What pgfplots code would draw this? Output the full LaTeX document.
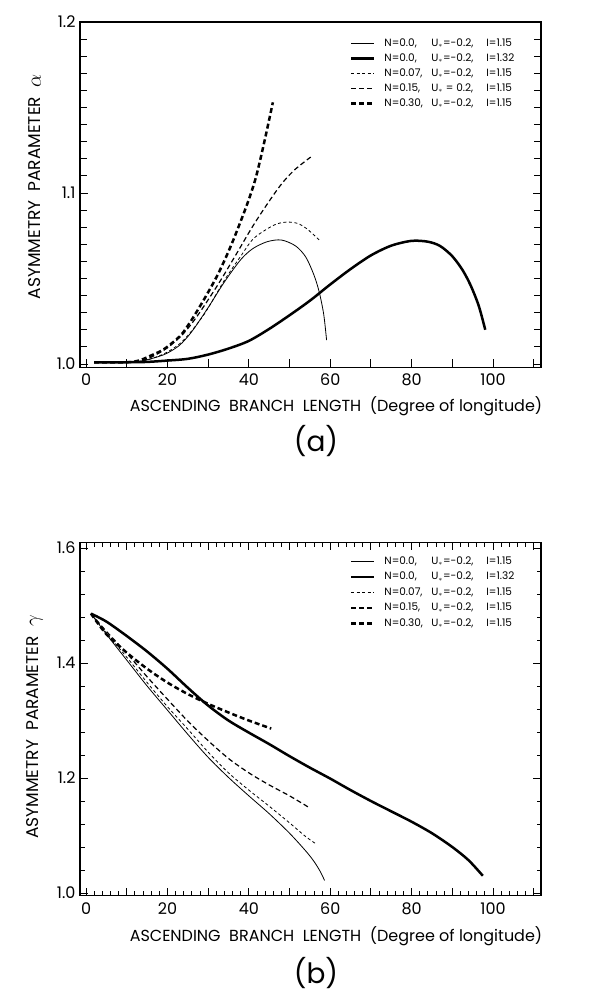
\documentclass[border=0pt]{standalone}
\usepackage{fontspec}
\setmainfont{Poppins}
\usepackage{pgfplots}
\pgfplotsset{compat=1.18}
\newcommand{\leg}[3]{\makebox[47pt][l]{#1}\makebox[55pt][l]{U$_{\ast}$#2}#3}
\begin{document}
\begin{tikzpicture}
\useasboundingbox (0pt,0pt) rectangle (607pt,999pt);
\pgfplotsset{
 common/.style={
  scale only axis,
  width=461pt,
  axis line style={line width=1.1pt},
  every tick/.style={line width=0.9pt, black},
  tick align=inside,
  xmin=-1.5, xmax=111.8,
  xtick={0,10,...,110},
  xticklabels={0,,20,,40,,60,,80,,100,},
  /pgf/number format/assume math mode=true,
  /pgf/number format/fixed, /pgf/number format/fixed zerofill, /pgf/number format/precision=1,
  ticklabel style={font=\fontsize{16}{16}\selectfont},
  xticklabel style={yshift=-3pt},
  yticklabel style={xshift=-1pt},
  legend cell align=left,
  legend image code/.code={\draw[##1] (0pt,0pt) -- (23pt,0pt);},
  legend style={draw=none, fill=none, inner sep=0pt, anchor=north west,
    font=\fontsize{10.5}{10.5}\selectfont,
    /tikz/every odd column/.append style={column sep=8pt},
    nodes={inner sep=1pt, text height=7.5pt, text depth=2pt}},
 },
 thinsolid/.style={black, line width=0.8pt, smooth},
 thicksolid/.style={black, line width=2.5pt, smooth},
 thindash/.style={black, line width=0.8pt, dash pattern=on 3pt off 2.5pt, smooth},
 meddash/.style={black, line width=1.2pt, dash pattern=on 5pt off 3pt, smooth},
 thickdash/.style={black, line width=2.5pt, dash pattern=on 5pt off 3pt, smooth},
}
% ---------------- panel (a) ----------------
\begin{axis}[common,
  at={(80pt,631.6pt)}, anchor=south west, height=345.4pt,
  ymin=0.998, ymax=1.2,
  ytick={1.0,1.1,1.2},
  minor y tick num=9,
  xtick pos=lower, ytick pos=both,
  major tick length=8pt, minor tick length=7pt,
  legend style={at={(0.585,0.955)}, row sep=3.5pt},
]
\addplot[thinsolid] coordinates {(2,1.001) (8,1.001) (12,1.0012) (15,1.0025) (18,1.0045) (20,1.0064) (23,1.011) (26,1.019) (30,1.033) (34,1.048) (38,1.061) (41,1.0675) (44.5,1.0715) (48,1.0725) (51.5,1.069) (54,1.0625) (56,1.052) (57.3,1.042) (58.4,1.029) (59.1,1.014)};
\addlegendentry{\leg{N=0.0,}{=-0.2,}{I=1.15}}
\addplot[thicksolid] coordinates {(2,1.001) (10,1.001) (15,1.0012) (20,1.002) (25,1.003) (30,1.0055) (35,1.009) (40,1.0135) (45,1.0205) (50,1.0285) (55,1.037) (60,1.0465) (65,1.0555) (70,1.0635) (75,1.0692) (80,1.072) (84,1.0715) (87,1.069) (90,1.063) (92.5,1.055) (94.5,1.046) (96.5,1.034) (98.1,1.020)};
\addlegendentry{\leg{N=0.0,}{=-0.2,}{I=1.32}}
\addplot[thindash] coordinates {(2,1.001) (10,1.001) (13,1.0015) (16,1.003) (20,1.007) (24,1.014) (29,1.029) (34,1.049) (38,1.063) (41,1.073) (44.5,1.079) (47,1.082) (49.5,1.083) (52,1.0822) (54,1.0795) (55.5,1.0765) (57.3,1.0725)};
\addlegendentry{\leg{N=0.07,}{=-0.2,}{I=1.15}}
\addplot[meddash] coordinates {(2,1.001) (10,1.001) (13,1.0015) (16,1.004) (20,1.0095) (24,1.018) (27.3,1.028) (32.3,1.046) (36.6,1.063) (41.6,1.083) (47.3,1.103) (51,1.113) (55.2,1.121)};
\addlegendentry{\leg{N=0.15,}{ = 0.2,}{I=1.15}}
\addplot[thickdash] coordinates {(2,1.001) (10,1.001) (13,1.002) (16,1.005) (18.7,1.008) (21,1.012) (23.7,1.018) (27.3,1.031) (32.3,1.052) (36.6,1.075) (41.6,1.108) (45.9,1.153)};
\addlegendentry{\leg{N=0.30,}{=-0.2,}{I=1.15}}
\end{axis}
% ---------------- panel (b) ----------------
\begin{axis}[common,
  at={(80pt,103.1pt)}, anchor=south west, height=353.6pt,
  ymin=0.995, ymax=1.61,
  ytick={1.0,1.2,1.4,1.6},
  minor y tick num=4, minor x tick num=4,
  xtick pos=both, ytick pos=both,
  major tick length=8pt, minor tick length=4.5pt,
  legend style={at={(0.585,0.9625)}, row sep=4pt},
]
\addplot[thinsolid] coordinates {(1.2,1.486) (5,1.45) (10,1.405) (15,1.36) (20,1.318) (25,1.276) (30,1.236) (35,1.201) (40,1.169) (45,1.138) (50,1.104) (54,1.073) (56,1.055) (57.5,1.038) (58.6,1.022)};
\addlegendentry{\leg{N=0.0,}{=-0.2,}{I=1.15}}
\addplot[thicksolid] coordinates {(1.2,1.486) (5,1.472) (10,1.447) (15,1.420) (20,1.390) (25,1.357) (30,1.326) (35,1.300) (40,1.279) (45,1.259) (50,1.238) (55,1.218) (60,1.199) (65,1.179) (70,1.160) (75,1.142) (80,1.124) (85,1.104) (90,1.080) (94,1.057) (97.5,1.030)};
\addlegendentry{\leg{N=0.0,}{=-0.2,}{I=1.32}}
\addplot[thindash] coordinates {(1.2,1.486) (5,1.452) (10,1.41) (15,1.366) (20,1.324) (25,1.285) (30,1.245) (35,1.209) (40,1.179) (45,1.151) (50,1.122) (54,1.098) (56.6,1.085)};
\addlegendentry{\leg{N=0.07,}{=-0.2,}{I=1.15}}
\addplot[meddash] coordinates {(1.2,1.486) (5,1.455) (10,1.417) (15,1.376) (20,1.337) (25,1.299) (30,1.265) (35,1.234) (40,1.209) (45,1.188) (50,1.169) (54.5,1.150)};
\addlegendentry{\leg{N=0.15,}{=-0.2,}{I=1.15}}
\addplot[thickdash] coordinates {(1.2,1.486) (5,1.45) (10,1.418) (15,1.39) (20,1.366) (25,1.346) (30,1.329) (35,1.314) (40,1.300) (45.5,1.286)};
\addlegendentry{\leg{N=0.30,}{=-0.2,}{I=1.15}}
\end{axis}
% ---------------- labels ----------------
\node[font=\fontsize{16}{16}\selectfont] at (336pt,593pt) {ASCENDING\ \ BRANCH\ \ LENGTH\ \ (Degree of longitude)};
\node[font=\fontsize{28}{28}\selectfont] at (316pt,558pt) {(a)};
\node[font=\fontsize{17}{17}\selectfont, rotate=90] at (35pt,812pt) {ASYMMETRY\ \ PARAMETER\ \ {\fontsize{22}{22}\selectfont$\alpha$}};
\node[font=\fontsize{16}{16}\selectfont] at (336pt,63pt) {ASCENDING\ \ BRANCH\ \ LENGTH\ \ (Degree of longitude)};
\node[font=\fontsize{28}{28}\selectfont] at (316pt,26pt) {(b)};
\node[font=\fontsize{17}{17}\selectfont, rotate=90] at (35pt,272pt) {ASYMMETRY\ \ PARAMETER\ \ {\fontsize{22}{22}\selectfont$\gamma$}};
\end{tikzpicture}
\end{document}
